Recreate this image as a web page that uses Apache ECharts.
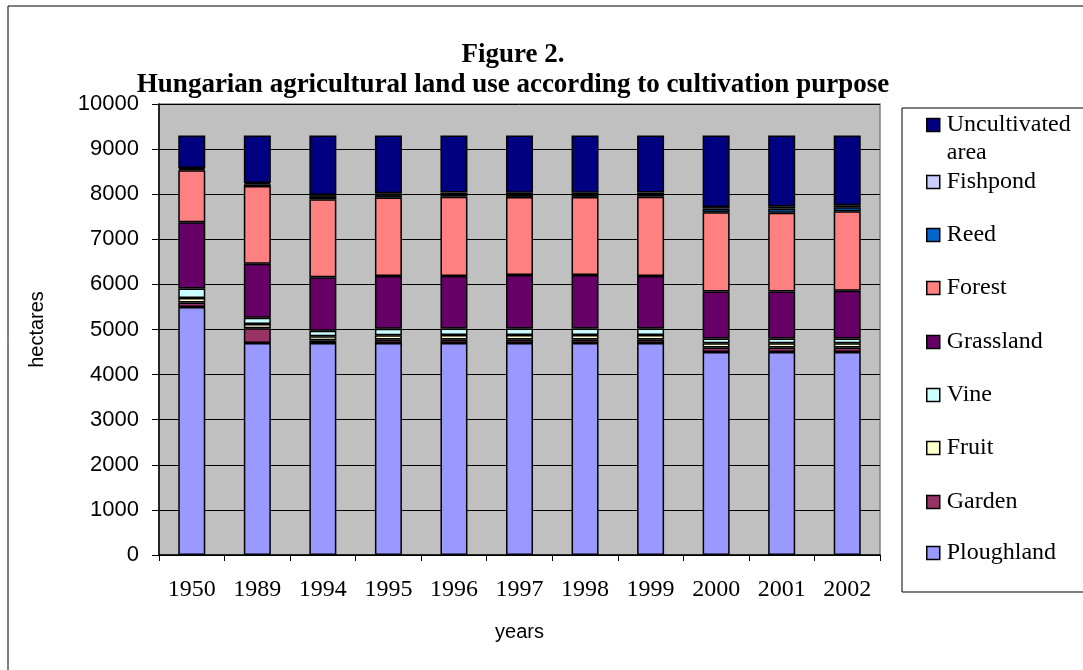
<!DOCTYPE html>
<html>
<head>
<meta charset="utf-8">
<script src="https://cdn.jsdelivr.net/npm/echarts@6/dist/echarts.min.js"></script>
<style>
html,body{margin:0;padding:0;background:#fff;}
#chart{width:1083px;height:670px;}
</style>
</head>
<body>
<div id="chart"></div>
<script>
const years = ['1950','1989','1994','1995','1996','1997','1998','1999','2000','2001','2002'];
const yTicks = [0,1000,2000,3000,4000,5000,6000,7000,8000,9000,10000];
const ploughland   = [5500,4700,4700,4700,4700,4700,4700,4700,4500,4500,4500];
const garden       = [100, 330, 60,  80,  80,  80,  80,  80,  100, 100, 100];
const fruit        = [100, 90,  90,  95,  100, 100, 100, 100, 95,  95,  95];
const vine         = [210, 140, 120, 140, 140, 140, 140, 140, 105, 105, 105];
const grassland    = [1470,1200,1190,1170,1165,1190,1190,1165,1040,1040,1060];
const forest       = [1150,1720,1730,1740,1760,1730,1730,1760,1760,1750,1760];
const reed         = [30,  40,  50,  55,  55,  55,  55,  55,  80,  90,  90];
const fishpond     = [20,  30,  40,  40,  35,  35,  35,  35,  35,  50,  45];
const uncultivated = [720, 1050,1320,1280,1265,1270,1270,1265,1585,1570,1545];

const seriesNames = ['Ploughland','Garden','Fruit','Vine','Grassland','Forest','Reed','Fishpond','Uncultivated area'];
const seriesData = [ploughland,garden,fruit,vine,grassland,forest,reed,fishpond,uncultivated];
const colors = ['#9999FF','#993366','#FFFFCC','#CCFFFF','#660066','#FF8080','#0066CC','#CCCCFF','#000080'];
const legendOrder = ['Uncultivated area','Fishpond','Reed','Forest','Grassland','Vine','Fruit','Garden','Ploughland'];
const legendCenters = [125,177,230,283,337,390,443,497,548];

const chart = echarts.init(document.getElementById('chart'));

const legends = legendOrder.map(function(name, i){
  const isTwo = name === 'Uncultivated area';
  return {
    data: [name],
    orient: 'vertical',
    left: 926,
    top: isTwo ? legendCenters[i] - 7 - 35 : legendCenters[i] - 7,
    padding: 0,
    itemWidth: 13,
    itemHeight: 13,
    selectedMode: false,
    icon: 'rect',
    itemStyle: {borderColor: '#000', borderWidth: 1.5},
    formatter: isTwo ? '\nUncultivated\narea' : '{name}',
    textStyle: isTwo ? {
      fontFamily: 'Liberation Serif', fontSize: 24, color: '#000',
      lineHeight: 28, padding: [0, 0, 0, 2]
    } : {
      fontFamily: 'Liberation Serif', fontSize: 24, color: '#000', padding: [0,0,0,2]
    }
  };
});

const option = {
  animation: false,
  backgroundColor: '#fff',
  title: [{
    text: 'Figure 2.',
    left: 513,
    textAlign: 'center',
    top: 40,
    padding: 0,
    textStyle: {fontFamily: 'Liberation Serif', fontWeight: 'bold', fontSize: 27, color: '#000', lineHeight: 30}
  }, {
    text: 'Hungarian agricultural land use according to cultivation purpose',
    left: 513,
    textAlign: 'center',
    top: 70,
    padding: 0,
    textStyle: {fontFamily: 'Liberation Serif', fontWeight: 'bold', fontSize: 27, color: '#000', lineHeight: 30}
  }],
  graphic: [
    {type: 'rect', z: -10, shape: {x: 8, y: 6, width: 1200, height: 800},
     style: {fill: '#fff', stroke: '#000', lineWidth: 1}},
    {type: 'rect', z: -5, shape: {x: 902, y: 108, width: 300, height: 484},
     style: {fill: '#fff', stroke: '#000', lineWidth: 1}}
  ],
  legend: legends,
  grid: {
    left: 159, right: 203, top: 104, bottom: 115,
    show: true, backgroundColor: '#C0C0C0', borderColor: '#808080', borderWidth: 1.5
  },
  xAxis: {
    type: 'category',
    data: years,
    name: 'years',
    nameLocation: 'middle',
    nameGap: 67,
    nameTextStyle: {fontFamily: 'Liberation Sans', fontSize: 20, color: '#000'},
    axisLine: {lineStyle: {color: '#000', width: 1.5}},
    axisTick: {show: true, length: 6, lineStyle: {color: '#000'}},
    axisLabel: {fontFamily: 'Liberation Serif', fontSize: 24, color: '#000', margin: 23},
    splitLine: {show: false}
  },
  yAxis: {
    type: 'value',
    min: yTicks[0],
    max: yTicks[yTicks.length-1],
    interval: yTicks[1] - yTicks[0],
    name: 'hectares',
    nameLocation: 'middle',
    nameGap: 112,
    nameTextStyle: {fontFamily: 'Liberation Sans', fontSize: 20, color: '#000'},
    axisLine: {show: true, lineStyle: {color: '#000', width: 1.5}},
    axisTick: {show: true, length: 7, lineStyle: {color: '#000'}},
    axisLabel: {fontFamily: 'Liberation Sans', fontSize: 22, color: '#000', margin: 20,
      formatter: function(v){ return String(v); }},
    splitLine: {show: true, lineStyle: {color: '#000', width: 1}}
  },
  series: seriesNames.map(function(name, i){
    return {
      name: name,
      type: 'bar',
      stack: 'total',
      barWidth: 27,
      data: seriesData[i],
      itemStyle: {color: colors[i], borderColor: '#000', borderWidth: 1.5}
    };
  })
};
chart.setOption(option);
</script>
</body>
</html>
